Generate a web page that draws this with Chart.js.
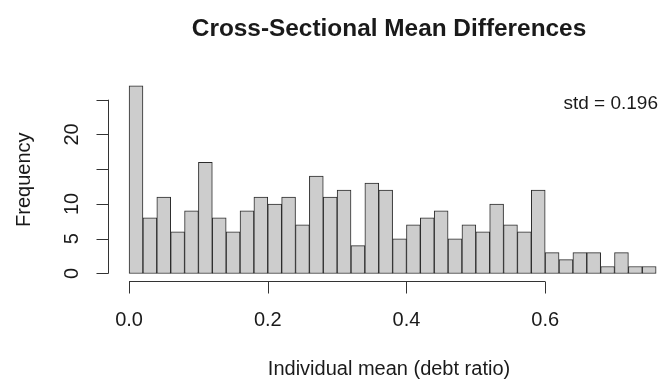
<!DOCTYPE html>
<html>
<head>
<meta charset="utf-8">
<script src="https://cdn.jsdelivr.net/npm/chart.js@4/dist/chart.umd.min.js"></script>
<style>
  html, body { margin: 0; padding: 0; background: #ffffff; }
  #wrap { width: 670px; height: 379px; }
</style>
</head>
<body>
<div id="wrap"><canvas id="hist" width="670" height="379"></canvas></div>
<script>
// Histogram bin edges (debt ratio) and the count in each bin
const breaks = [0.00, 0.02, 0.04, 0.06, 0.08, 0.10, 0.12, 0.14, 0.16, 0.18,
                0.20, 0.22, 0.24, 0.26, 0.28, 0.30, 0.32, 0.34, 0.36, 0.38,
                0.40, 0.42, 0.44, 0.46, 0.48, 0.50, 0.52, 0.54, 0.56, 0.58,
                0.60, 0.62, 0.64, 0.66, 0.68, 0.70, 0.72, 0.74, 0.76];
const counts = [27, 8, 11, 6, 9, 16, 8, 6, 9, 11,
                10, 11, 7, 14, 11, 12, 4, 13, 12, 5,
                7, 8, 9, 5, 7, 6, 10, 7, 6, 12,
                3, 2, 3, 3, 1, 3, 1, 1];

// Axis ticks and their labels (15 and 25 carry a tick but no label)
const xTicks = [0.0, 0.2, 0.4, 0.6];
const xTickLabels = ['0.0', '0.2', '0.4', '0.6'];
const yTicks = [0, 5, 10, 15, 20, 25];
const yTickLabels = ['0', '5', '10', '', '20', ''];

const titleText = 'Cross-Sectional Mean Differences';
const xTitle = 'Individual mean (debt ratio)';
const yTitle = 'Frequency';
const stdNote = 'std = 0.196';

const FONT = "'Liberation Sans', Arial, Helvetica, sans-serif";
const INK = '#1a1a1a';

// one bar per bin, centred between its two edges
const barData = counts.map((c, i) => ({ x: (breaks[i] + breaks[i + 1]) / 2, y: c }));

// Classic base-graphics style axes: lines that stop at the outer ticks,
// set a little apart from the plotting region.
const baseAxes = {
  id: 'baseAxes',
  afterDraw(chart) {
    const { ctx, chartArea, scales } = chart;
    const xs = scales.x, ys = scales.y;
    ctx.save();
    ctx.strokeStyle = '#333333';
    ctx.lineWidth = 1;
    ctx.fillStyle = INK;

    // x axis
    const xAxisY = Math.round(chartArea.bottom) + 0.5;
    const x0 = xs.getPixelForValue(xTicks[0]);
    const x1 = xs.getPixelForValue(xTicks[xTicks.length - 1]);
    ctx.beginPath();
    ctx.moveTo(x0, xAxisY);
    ctx.lineTo(x1, xAxisY);
    xTicks.forEach(v => {
      const px = Math.round(xs.getPixelForValue(v)) + 0.5;
      ctx.moveTo(px, xAxisY);
      ctx.lineTo(px, xAxisY + 12);
    });
    ctx.stroke();
    ctx.font = '20px ' + FONT;
    ctx.textAlign = 'center';
    ctx.textBaseline = 'middle';
    xTicks.forEach((v, i) => {
      ctx.fillText(xTickLabels[i], xs.getPixelForValue(v), 320);
    });

    // y axis
    const yAxisX = Math.round(chartArea.left) + 0.5;
    const yb = ys.getPixelForValue(yTicks[0]);
    const yt = ys.getPixelForValue(yTicks[yTicks.length - 1]);
    ctx.beginPath();
    ctx.moveTo(yAxisX, yb);
    ctx.lineTo(yAxisX, yt);
    yTicks.forEach(v => {
      const py = Math.round(ys.getPixelForValue(v)) + 0.5;
      ctx.moveTo(yAxisX, py);
      ctx.lineTo(yAxisX - 12, py);
    });
    ctx.stroke();
    yTicks.forEach((v, i) => {
      if (!yTickLabels[i]) return;
      ctx.save();
      ctx.translate(72, ys.getPixelForValue(v));
      ctx.rotate(-Math.PI / 2);
      ctx.fillText(yTickLabels[i], 0, 0);
      ctx.restore();
    });

    // axis titles
    const midX = (chartArea.left + chartArea.right) / 2;
    const midY = (chartArea.top + chartArea.bottom) / 2;
    ctx.fillText(xTitle, midX, 369);
    ctx.save();
    ctx.translate(24, midY);
    ctx.rotate(-Math.PI / 2);
    ctx.fillText(yTitle, 0, 0);
    ctx.restore();

    // spread annotation, top right
    ctx.font = '19px ' + FONT;
    ctx.textAlign = 'right';
    ctx.fillText(stdNote, 658, 104);
    ctx.restore();
  }
};

new Chart(document.getElementById('hist'), {
  type: 'bar',
  data: {
    datasets: [{
      data: barData,
      backgroundColor: '#cdcdcd',
      borderColor: '#2b2b2b',
      borderWidth: 1,
      borderSkipped: false,
      barPercentage: 1.0,
      categoryPercentage: 1.0
    }]
  },
  options: {
    responsive: false,
    animation: false,
    devicePixelRatio: 1,
    layout: { padding: { left: 108, right: 0, top: 0, bottom: 98 } },
    scales: {
      x: { type: 'linear', min: -0.0304, max: 0.78, offset: false, display: false },
      y: { type: 'linear', min: -1.08, max: 28.08, display: false }
    },
    plugins: {
      legend: { display: false },
      tooltip: { enabled: false },
      title: {
        display: true,
        text: titleText,
        color: INK,
        font: { family: FONT, size: 24.4, weight: 'bold' },
        padding: { top: 15, bottom: 34 }
      }
    }
  },
  plugins: [baseAxes]
});
</script>
</body>
</html>
